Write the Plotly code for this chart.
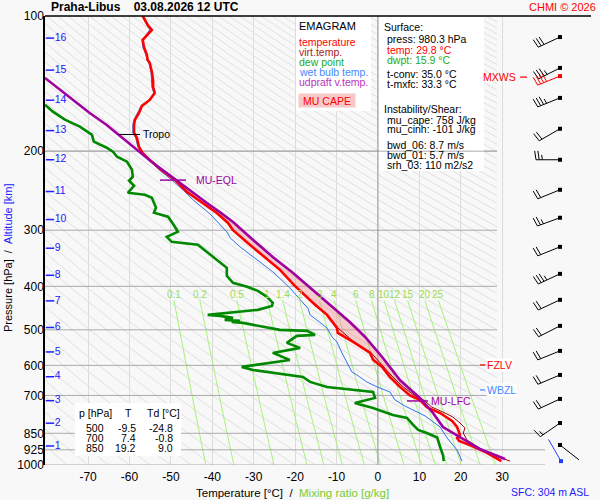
import numpy as np
import plotly.graph_objects as go

# --- sounding Praha-Libus 03.08.2026 12 UTC ---
temp_p = [100, 104.7, 107.4, 110.2, 113.1, 117.2, 122.2, 125.3, 127.3, 133.3, 138.9, 143.9, 148.4, 153.8,
          158.6, 164.4, 170.4, 174.9, 182.2, 187.0, 195.8, 202.0, 209.3, 220.3, 231.9, 246.6, 260.9, 274.6,
          289.0, 300.0, 320.0, 344.0, 368.0, 397.0, 428.7, 439.9, 463.0, 495.0, 508.0, 532.0, 563.0, 583.0,
          605.0, 637.0, 670.0, 700.0, 716.0, 743.0, 766.0, 798.0, 823.0, 857.0, 870.0, 884.0, 903.0, 940.0, 980.3]
temp_t = [-56.8, -55.6, -54.6, -55.6, -56.8, -56.5, -55.8, -55.6, -55.1, -54.6, -54.3, -54.3, -53.9, -55.1,
          -57.0, -57.7, -58.7, -58.9, -58.9, -58.2, -57.7, -56.8, -55.1, -52.3, -49.0, -46.1, -42.3, -38.9,
          -36.2, -35.0, -31.5, -27.5, -23.6, -20.3, -16.4, -15.2, -12.3, -9.9, -9.7, -6.0, -1.9, -1.2,
          1.0, 2.9, 5.3, 7.7, 10.1, 11.8, 15.0, 17.9, 19.1, 19.8, 19.1, 19.6, 22.2, 26.3, 29.8]

virt_p = [397, 428.7, 463, 495, 532, 563, 605, 637, 670, 700, 716, 743, 766, 782, 806, 827, 849, 880, 917, 950, 980.3]
virt_t = [-20.2, -16.3, -12.2, -9.7, -5.8, -1.6, 1.5, 3.6, 6.1, 8.8, 11.0, 13.0, 16.2, 18.1, 19.8, 21.0, 20.6,
          21.5, 24.6, 27.8, 31.9]

dewp_p = [157.6, 163.3, 170.2, 176.4, 183.8, 190.5, 196.5, 200.5, 205.8, 211.1, 220.0, 228.0, 232.8, 238.8,
          247.6, 250.1, 254.0, 262.0, 267.3, 274.3, 279.9, 290.2, 302.4, 310.3, 318.4, 323.3, 335.2, 352.7,
          363.7, 379.1, 392.9, 401.1, 409.4, 422.2, 435.4, 442.2, 451.3, 463.0, 465.4, 470.2, 475.1, 477.5,
          480.0, 482.4, 492.4, 500.1, 502.6, 513.1, 515.7, 534.5, 548.5, 562.8, 583.4, 604.7, 614.1, 636.7,
          653.0, 670.1, 687.5, 709.0, 727.5, 746.4, 773.7, 785.7, 814.4, 835.6, 848.6, 868.4, 911.8, 950.0, 980.3]
dewp_t = [-80.4, -78.5, -75.6, -72.0, -69.1, -68.6, -65.5, -64.0, -63.0, -60.6, -59.4, -59.2, -60.1, -58.9,
          -60.4, -56.3, -54.6, -53.9, -53.6, -54.1, -50.7, -49.5, -48.3, -51.0, -49.8, -43.5, -41.3, -38.2,
          -36.5, -36.5, -35.0, -31.6, -29.0, -26.8, -25.4, -25.6, -29.0, -41.1, -38.2, -35.0, -37.0, -33.3,
          -35.3, -32.6, -27.8, -23.7, -17.1, -15.2, -19.6, -22.0, -18.8, -25.4, -21.3, -32.9, -30.2, -18.1,
          -16.4, -12.3, -1.2, -0.7, -5.6, -1.2, 3.6, 7.0, 8.5, 9.7, 11.8, 14.3, 15.0, 15.7, 15.9]

wetb_p = [100, 104.7, 107.4, 110.2, 113.1, 117.2, 122.2, 125.3, 127.3, 133.3, 138.9, 143.9, 148.4, 155.2,
          158.6, 164.4, 170.2, 174.6, 181.9, 186.7, 195.5, 201.6, 209.0, 220.0, 231.6, 243.8, 256.6, 275.7,
          302.4, 311.9, 326.7, 349.1, 371.3, 403.1, 428.7, 447.9, 463.0, 482.4, 495.0, 518.4, 531.8, 562.8,
          592.4, 620.5, 630.1, 653.0, 670.1, 687.5, 716.3, 738.8, 777.7, 822.7, 870.6, 925.9, 980.3]
wetb_t = [-57.0, -55.8, -55.1, -56.0, -57.0, -56.8, -56.0, -55.8, -55.3, -54.8, -54.6, -54.6, -54.1, -55.6,
          -57.2, -58.0, -58.9, -59.2, -59.2, -58.5, -58.0, -57.0, -55.3, -52.9, -49.8, -47.1, -44.7, -40.6,
          -36.5, -35.7, -33.3, -29.2, -25.4, -21.3, -18.8, -16.9, -16.4, -14.0, -12.3, -11.1, -9.9, -8.7,
          -7.5, -6.3, -5.1, -2.7, -0.2, 2.9, 4.1, 6.5, 11.4, 15.0, 16.7, 19.1, 20.3]

parc_p = [137.4, 146.1, 153.8, 164.4, 174.9, 187.0, 201.0, 212.6, 223.7, 235.5, 247.9, 260.9, 273.2, 287.5,
          315.1, 344.1, 373.6, 407.5, 444.7, 480.3, 518.7, 577.6, 646.9, 709.2, 765.9, 823.0, 866.3, 921.2, 969.7]
parc_t = [-80.4, -76.8, -73.7, -69.6, -65.5, -61.6, -57.5, -54.3, -51.0, -47.8, -44.7, -41.3, -38.2, -35.0,
          -30.2, -25.4, -20.5, -15.7, -10.9, -6.8, -3.1, 1.2, 5.3, 10.1, 13.3, 15.7, 19.8, 24.6, 30.7]

# altitude marks
alt_km = list(range(1, 17))
alt_p = [907, 807, 719, 636, 560, 494, 431, 378, 329, 284, 246, 209, 180, 154, 132, 112]

# wind
wind_p = [111.4, 130.5, 152.2, 178.3, 209.0, 243.8, 281.4, 326.7, 375.2, 428.7, 489.9, 557.0, 630.1, 712.6, 806.1, 902.5]
wind_dir = [245, 243, 248, 240, 270, 248, 250, 248, 245, 245, 243, 248, 247, 245, 235, 128]
wind_kt = [30, 35, 35, 20, 25, 20, 25, 20, 35, 20, 20, 20, 20, 20, 15, 3]
mxws_p, mxws_dir, mxws_kt = 136.1, 248, 40
sfc_wind_p, sfc_wind_dir, sfc_wind_kt = 980.3, 330, 3

# levels
lfc_p, eql_p, tropo_p, fzlv_p, wbzl_p = 720, 232, 183.6, 598.5, 680.5

mix_ratios = [0.1, 0.2, 0.5, 1, 1.4, 2, 3, 4, 6, 8, 10, 12, 15, 20, 25]
p_ticks = [100, 200, 300, 400, 500, 600, 700, 850, 925, 1000]
t_ticks = [-70, -60, -50, -40, -30, -20, -10, 0, 10, 20, 30]

table_p = [500, 700, 850]
table_t = [-9.5, 7.4, 19.2]
table_td = [-24.8, -0.8, 9.0]

sfc_press, sfc_temp, sfc_dwpt, t_conv, t_mxfc = 980.3, 29.8, 15.9, 35.0, 33.3
mu_cape, mu_cinh, bwd_06, bwd_01, srh_03 = 758, -101, 8.7, 5.7, 110
sfc_height = 304

# --- geometry helpers ---
FONT = "Liberation Sans, Arial, sans-serif"
L_PX, T_PX, PW, PH = 45, 16, 545, 449
X_LO, X_HI = -80.4, 51.2
PXD = PW / (X_HI - X_LO)
RED, DRED, GREEN, BLUE, PURPLE = "#ff0000", "#a00000", "#008800", "#3070ee", "#a000a0"
ALTBLUE = "#2020ff"


def xpx(t):
    return L_PX + (t - X_LO) * PXD


def ypx(p):
    return T_PX + PH * (np.log10(p) - 2)


def px2t(px):
    return X_LO + (px - L_PX) / PXD


def px2p(py):
    return 10 ** (2 + (py - T_PX) / PH)


def xp(px):
    return (px - L_PX) / PW


def yp(py):
    return 1 - (py - T_PX) / PH


def txt(px, py, s, color="black", size=10.5, anchor="left", bg=None):
    a = dict(x=xp(px), y=yp(py), xref="paper", yref="paper", text=s, showarrow=False,
             xanchor=anchor, yanchor="middle", font=dict(family=FONT, size=size, color=color), borderpad=0)
    if bg:
        a["bgcolor"] = bg
    return a


def hline(px0, px1, py, color, width=1.2):
    return dict(type="line", xref="paper", yref="paper", x0=xp(px0), x1=xp(px1), y0=yp(py), y1=yp(py),
                line=dict(color=color, width=width))


def box_trace(x0, y0, x1, y1, color="white"):
    xs = [px2t(x0), px2t(x1), px2t(x1), px2t(x0), px2t(x0)]
    ys = [px2p(y0), px2p(y0), px2p(y1), px2p(y1), px2p(y0)]
    return go.Scatter(x=xs, y=ys, mode="lines", fill="toself", fillcolor=color, line=dict(width=0),
                      hoverinfo="skip")


def barb(p, d, kt, base_px=560, L=24, flen=9, step=3.2):
    bx, by = base_px, ypx(p)
    r = np.radians(d)
    ux, uy = np.sin(r), -np.cos(r)
    tx, ty = bx + L * ux, by + L * uy
    fx, fy = -uy + 0.15 * ux, ux + 0.15 * uy
    n = np.hypot(fx, fy)
    fx, fy = fx / n, fy / n
    segs = [(bx, by, tx, ty)]
    full, half = int(kt // 10), (kt % 10) >= 5
    for i in range(full):
        sx, sy = tx - i * step * ux, ty - i * step * uy
        segs.append((sx, sy, sx + flen * fx, sy + flen * fy))
    if half:
        i = full if full else 1
        sx, sy = tx - i * step * ux, ty - i * step * uy
        segs.append((sx, sy, sx + 0.55 * flen * fx, sy + 0.55 * flen * fy))
    xs, ys = [], []
    for x0, y0, x1, y1 in segs:
        xs += [px2t(x0), px2t(x1), None]
        ys += [px2p(y0), px2p(y1), None]
    return xs, ys


def td_from_w(w, p):
    e = w * p / (622 + w)
    a = np.log(e / 6.112)
    return 243.5 * a / (17.67 - a)


fig = go.Figure()

# dry adiabats
T_CLIP = px2t(497)
dx, dy = [], []
for th in range(-80, 315, 5):
    thk = th + 273.15
    p_end = min(1000, 1000 * ((T_CLIP + 273.15) / thk) ** (1 / 0.286))
    if p_end <= 100:
        continue
    pp = np.geomspace(100, p_end, 40)
    dx += list(thk * (pp / 1000) ** 0.286 - 273.15) + [None]
    dy += list(pp) + [None]
fig.add_trace(go.Scatter(x=dx, y=dy, mode="lines", line=dict(color="#e0e0e0", width=1), hoverinfo="skip"))

# mixing ratio lines
mx, my = [], []
pp = np.geomspace(430, 1000, 20)
for w in mix_ratios:
    mx += list(td_from_w(w, pp)) + [None]
    my += list(pp) + [None]
fig.add_trace(go.Scatter(x=mx, y=my, mode="lines", line=dict(color="#a8f27c", width=1), hoverinfo="skip"))

# pressure lines
hx, hy = [], []
for p in p_ticks[1:]:
    right = 545 if p >= 850 else 497
    hx += [X_LO, px2t(right), None]
    hy += [p, p, None]
fig.add_trace(go.Scatter(x=hx, y=hy, mode="lines", line=dict(color="#aaaaaa", width=1), hoverinfo="skip"))

# white boxes
fig.add_trace(box_trace(296, 17, 371, 111))
fig.add_trace(box_trace(379, 17, 484, 171))
fig.add_trace(box_trace(75, 403, 181, 456))

# 200 hPa line over info box, 0 degC line
fig.add_trace(go.Scatter(x=[X_LO, px2t(497)], y=[200, 200], mode="lines",
                         line=dict(color="#aaaaaa", width=1), hoverinfo="skip"))
fig.add_trace(go.Scatter(x=[0, 0], y=[100, 1000], mode="lines", line=dict(color="#999999", width=1),
                         hoverinfo="skip"))

# CAPE area between parcel and environment


def segment(ps, ts, lo, hi):
    ps, ts = np.array(ps), np.array(ts)
    inner = (ps > lo) & (ps < hi)
    pq = np.concatenate([[lo], ps[inner], [hi]])
    return pq, np.interp(np.log(pq), np.log(ps), ts)


p1, t1 = segment(parc_p, parc_t, eql_p, lfc_p)
p2, t2 = segment(temp_p, temp_t, eql_p, lfc_p)
fig.add_trace(go.Scatter(x=list(t1) + list(t2[::-1]), y=list(p1) + list(p2[::-1]), mode="lines",
                         fill="toself", fillcolor="rgba(240,140,140,0.42)", line=dict(width=0), hoverinfo="skip"))

# profiles
fig.add_trace(go.Scatter(x=wetb_t, y=wetb_p, mode="lines", line=dict(color=BLUE, width=1)))
fig.add_trace(go.Scatter(x=virt_t, y=virt_p, mode="lines", line=dict(color=DRED, width=1)))
fig.add_trace(go.Scatter(x=dewp_t, y=dewp_p, mode="lines", line=dict(color=GREEN, width=2.6)))
fig.add_trace(go.Scatter(x=temp_t, y=temp_p, mode="lines", line=dict(color=RED, width=2.6)))
fig.add_trace(go.Scatter(x=parc_t, y=parc_p, mode="lines", line=dict(color=PURPLE, width=2.6)))

# altitude marks
fig.add_trace(go.Scatter(x=[px2t(50)] * len(alt_p), y=alt_p, mode="markers+text",
                         marker=dict(symbol="line-ew", size=6, line=dict(width=1.5, color=ALTBLUE)),
                         text=[str(k) for k in alt_km], textposition="middle right",
                         textfont=dict(family=FONT, size=10.5, color=ALTBLUE), cliponaxis=False))

# wind barbs
bx, by = [], []
for p, d, kt in zip(wind_p, wind_dir, wind_kt):
    xs, ys = barb(p, d, kt)
    bx += xs
    by += ys
fig.add_trace(go.Scatter(x=bx, y=by, mode="lines", line=dict(color="black", width=1)))
fig.add_trace(go.Scatter(x=[px2t(560)] * len(wind_p), y=wind_p, mode="markers",
                         marker=dict(symbol="square", size=4, color="black")))
xs, ys = barb(mxws_p, mxws_dir, mxws_kt)
fig.add_trace(go.Scatter(x=xs, y=ys, mode="lines", line=dict(color=RED, width=1)))
fig.add_trace(go.Scatter(x=[px2t(560)], y=[mxws_p], mode="markers",
                         marker=dict(symbol="square", size=4, color=RED)))
xs, ys = barb(sfc_wind_p, sfc_wind_dir, sfc_wind_kt, base_px=561, L=25)
fig.add_trace(go.Scatter(x=xs, y=ys, mode="lines", line=dict(color="#2040ff", width=1)))
fig.add_trace(go.Scatter(x=[px2t(561)], y=[sfc_wind_p], mode="markers",
                         marker=dict(symbol="square", size=4, color="#2040ff")))

# --- annotations ---
ann = []
ann.append(txt(50, 7, "<b>Praha-Libus\u00a0\u00a0\u00a0\u00a003.08.2026 12 UTC</b>", size=12))
ann.append(txt(597, 7, "CHMI \u00a9 2026", color=RED, size=11, anchor="right"))

# legend box
ann.append(txt(298, 26, "EMAGRAM", size=11))
for i, (s, c) in enumerate([("temperature", RED), ("virt.temp.", "#aa2020"), ("dew point", "#22aa22"),
                            ("wet bulb temp.", "#4488ff"), ("udpraft v.temp.", "#bb33bb")]):
    ann.append(txt(298, 42 + 10 * i, s, color=c, size=10.5))
ann.append(dict(x=xp(327), y=yp(100), xref="paper", yref="paper", text="MU CAPE", showarrow=False,
                xanchor="center", yanchor="middle", font=dict(family=FONT, size=10.5, color=RED),
                bgcolor="#f7c8c8", width=56, height=13, borderpad=0))

# info box
info = [("Surface:", 382.5, 27, "black"),
        (f"press: {sfc_press} hPa", 386, 39.5, "black"),
        (f"temp: {sfc_temp} \u00b0C", 386, 50, RED),
        (f"dwpt: {sfc_dwpt} \u00b0C", 386, 60, "#22aa22"),
        (f"t-conv: {t_conv} \u00b0C", 386, 74, "black"),
        (f"t-mxfc: {t_mxfc} \u00b0C", 386, 84, "black"),
        ("Instability/Shear:", 382.5, 108.5, "black"),
        (f"mu_cape: {mu_cape} J/kg", 386, 119.5, "black"),
        (f"mu_cinh: {mu_cinh} J/kg", 386, 129.5, "black"),
        (f"bwd_06: {bwd_06} m/s", 386, 145, "black"),
        (f"bwd_01: {bwd_01} m/s", 386, 155, "black"),
        (f"srh_03: {srh_03} m2/s2", 386, 164.5, "black")]
for s, x, y, c in info:
    ann.append(txt(x, y, s, color=c, size=10.5))

# table
ann.append(txt(78, 413, "p [hPa]", size=10.5))
ann.append(txt(128, 413, "T", size=10.5, anchor="center"))
ann.append(txt(146, 413, "Td [\u00b0C]", size=10.5))
for i, (p, t, td) in enumerate(zip(table_p, table_t, table_td)):
    y = 428 + 10 * i
    ann.append(txt(94.5, y, str(p), size=10.5, anchor="center"))
    ann.append(txt(137, y, f"{t:.1f}", size=10.5, anchor="right"))
    ann.append(txt(173.5, y, f"{td:.1f}", size=10.5, anchor="right"))

# mixing ratio labels
for w in mix_ratios:
    ann.append(txt(xpx(td_from_w(w, 430)), 294, f"{w:g}", color="#99dd55", size=10, anchor="center"))

# level markers
ann.append(txt(142, ypx(tropo_p), "Tropo", size=10.5))
ann.append(txt(195, ypx(eql_p), "MU-EQL", color=PURPLE, size=10.5))
ann.append(txt(430, ypx(lfc_p), "MU-LFC", color=PURPLE, size=10.5))
ann.append(txt(486, ypx(fzlv_p), "FZLV", color=RED, size=10.5, bg="white"))
ann.append(txt(486, ypx(wbzl_p), "WBZL", color="#4488ff", size=10.5, bg="white"))
ann.append(txt(517, ypx(mxws_p) + 1, "MXWS", color=RED, size=10.5, anchor="right"))

# axis titles
ann.append(dict(x=xp(292), y=yp(493), xref="paper", yref="paper", showarrow=False, xanchor="center",
                yanchor="middle", font=dict(family=FONT, size=11.5, color="black"),
                text="Temperature [\u00b0C]\u00a0\u00a0/\u00a0\u00a0<span style='color:#77cc33'>Mixing ratio [g/kg]</span>"))
ann.append(dict(x=xp(8), y=yp(258), xref="paper", yref="paper", showarrow=False, xanchor="center",
                yanchor="middle", textangle=-90, font=dict(family=FONT, size=11, color="black"),
                text=f"Pressure [hPa]\u00a0\u00a0/\u00a0\u00a0<span style='color:{ALTBLUE}'>Altitude [km]</span>"))
ann.append(txt(590, 492, f"SFC: {sfc_height} m ASL", color=ALTBLUE, size=10.5, anchor="right"))

shapes = [
    hline(45, 591, 16, "black", 1.5),
    hline(119, 140, ypx(tropo_p), "black", 1),
    hline(160, 186, ypx(eql_p), PURPLE, 1.5),
    hline(407, 428, ypx(lfc_p), PURPLE, 1.5),
    hline(480, 485, ypx(fzlv_p), RED, 1.2),
    hline(480, 485, ypx(wbzl_p), "#4488ff", 1.2),
    hline(520, 527, ypx(mxws_p) + 1, RED, 1.2),
]

fig.update_layout(
    width=600, height=500, margin=dict(l=45, r=10, t=16, b=35),
    paper_bgcolor="#f8f8f8", plot_bgcolor="#f8f8f8", showlegend=False,
    font=dict(family=FONT, size=11, color="black"),
    xaxis=dict(range=[X_LO, X_HI], tickvals=t_ticks, ticktext=[str(t) for t in t_ticks], showgrid=True,
               gridcolor="#dcdcdc", gridwidth=1, zeroline=False, showline=False, ticks="",
               ticklabelstandoff=3, tickfont=dict(size=12, color="black")),
    yaxis=dict(type="log", range=[3, 2], tickvals=p_ticks, ticktext=[str(p) for p in p_ticks],
               showgrid=False, zeroline=False, showline=True, linecolor="black", linewidth=1.5,
               ticks="", ticklabelstandoff=-3, tickfont=dict(size=12, color="black")),
    shapes=shapes, annotations=ann,
)

# the page gets a default 8px body margin; drop it so the chart sits at the window origin
fig.write_html("out.html", config={"displayModeBar": False},
               post_script="document.body.style.margin='0';document.body.style.padding='0';")
